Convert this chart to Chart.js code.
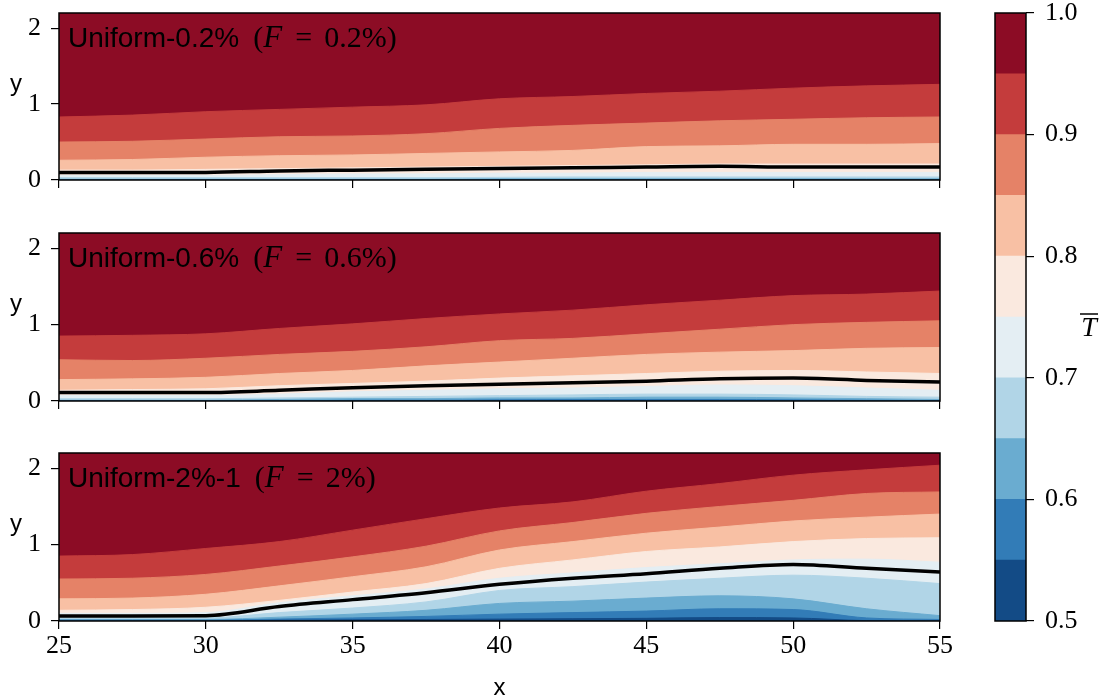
<!DOCTYPE html>
<html>
<head>
<meta charset="utf-8">
<script src="https://cdn.jsdelivr.net/npm/chart.js@4.4.1/dist/chart.umd.min.js"></script>
<style>
  html, body { margin: 0; padding: 0; background: #fff; overflow: hidden; }
  body { width: 1102px; height: 698px; position: relative; }
  canvas { position: absolute; }
</style>
</head>
<body>
<canvas id="c1"></canvas>
<canvas id="c2"></canvas>
<canvas id="c3"></canvas>
<canvas id="cbar"></canvas>
<script>
const xs = [25, 27.5, 30, 32.5, 35, 37.5, 40, 42.5, 45, 47.5, 50, 52.5, 55];

// band edges of T-bar and their colours (RdBu_r, low -> high)
const edges = [0.50, 0.55, 0.60, 0.65, 0.70, 0.75, 0.80, 0.85, 0.90, 0.95, 1.00];
const bandColors = ['#134b86', '#327cb7', '#6aacd0', '#b1d5e7', '#e4eef3',
                    '#fae9df', '#f8c0a4', '#e58267', '#c43c3c', '#8c0c25'];

const names = ['Uniform-0.2%', 'Uniform-0.6%', 'Uniform-2%-1'];
const fracs = ['0.2%', '0.6%', '2%'];

// Uniform-0.2% : height of each T contour (0.55 ... 0.95)
const p1_055 = [0, 0, 0, 0, 0, 0, 0, 0, 0, 0, 0, 0, 0];
const p1_060 = [0, 0, 0, 0, 0, 0, 0, 0, 0, 0, 0, 0, 0];
const p1_065 = [0.01, 0.01, 0.01, 0.01, 0.01, 0.01, 0.015, 0.015, 0.015, 0.015, 0.015, 0.015, 0.015];
const p1_070 = [0.03, 0.03, 0.03, 0.03, 0.03, 0.03, 0.035, 0.04, 0.04, 0.04, 0.04, 0.04, 0.04];
const p1_075 = [0.06, 0.06, 0.06, 0.07, 0.08, 0.08, 0.09, 0.09, 0.10, 0.10, 0.10, 0.10, 0.10];
const p1_080 = [0.13, 0.13, 0.14, 0.15, 0.16, 0.17, 0.18, 0.19, 0.20, 0.21, 0.21, 0.21, 0.21];
const p1_085 = [0.26, 0.27, 0.30, 0.32, 0.33, 0.35, 0.37, 0.39, 0.44, 0.45, 0.47, 0.47, 0.48];
const p1_090 = [0.50, 0.51, 0.54, 0.57, 0.58, 0.61, 0.68, 0.72, 0.75, 0.78, 0.80, 0.82, 0.83];
const p1_095 = [0.83, 0.855, 0.90, 0.93, 0.96, 0.99, 1.07, 1.10, 1.14, 1.17, 1.21, 1.24, 1.26];
const black1 = [0.10, 0.10, 0.10, 0.12, 0.13, 0.14, 0.15, 0.16, 0.17, 0.18, 0.17, 0.17, 0.17];

// Uniform-0.6%
const p2_055 = [0, 0, 0, 0, 0, 0, 0, 0, 0, 0, 0, 0, 0];
const p2_060 = [0, 0, 0, 0, 0.01, 0.01, 0.015, 0.02, 0.02, 0.02, 0.015, 0.01, 0.005];
const p2_065 = [0.01, 0.01, 0.01, 0.02, 0.03, 0.03, 0.04, 0.04, 0.05, 0.05, 0.04, 0.03, 0.02];
const p2_070 = [0.03, 0.03, 0.03, 0.04, 0.05, 0.06, 0.07, 0.08, 0.09, 0.09, 0.08, 0.06, 0.05];
const p2_075 = [0.07, 0.07, 0.07, 0.09, 0.12, 0.14, 0.16, 0.17, 0.19, 0.21, 0.20, 0.17, 0.14];
const p2_080 = [0.14, 0.15, 0.16, 0.20, 0.23, 0.26, 0.30, 0.33, 0.36, 0.39, 0.40, 0.38, 0.36];
const p2_085 = [0.28, 0.29, 0.31, 0.36, 0.40, 0.46, 0.51, 0.56, 0.61, 0.64, 0.66, 0.69, 0.70];
const p2_090 = [0.54, 0.53, 0.56, 0.61, 0.65, 0.71, 0.79, 0.82, 0.88, 0.94, 1.00, 1.03, 1.05];
const p2_095 = [0.85, 0.86, 0.88, 0.95, 1.01, 1.08, 1.14, 1.19, 1.26, 1.32, 1.38, 1.40, 1.44];
const black2 = [0.11, 0.11, 0.11, 0.14, 0.175, 0.20, 0.22, 0.24, 0.26, 0.29, 0.30, 0.27, 0.25];

// Uniform-2%-1
const p3_055 = [0, 0, 0, 0.01, 0.015, 0.02, 0.025, 0.03, 0.035, 0.045, 0.04, 0.005, 0];
const p3_060 = [0.01, 0.01, 0.01, 0.025, 0.04, 0.06, 0.09, 0.11, 0.13, 0.16, 0.15, 0.04, 0.02];
const p3_065 = [0.02, 0.02, 0.02, 0.05, 0.09, 0.14, 0.23, 0.26, 0.30, 0.33, 0.29, 0.16, 0.07];
const p3_070 = [0.04, 0.04, 0.04, 0.11, 0.17, 0.25, 0.40, 0.45, 0.51, 0.56, 0.60, 0.56, 0.49];
const p3_075 = [0.10, 0.10, 0.11, 0.24, 0.33, 0.42, 0.56, 0.63, 0.70, 0.75, 0.80, 0.81, 0.77];
const p3_080 = [0.14, 0.15, 0.18, 0.27, 0.38, 0.49, 0.69, 0.80, 0.91, 0.97, 1.04, 1.08, 1.09];
const p3_085 = [0.29, 0.30, 0.35, 0.46, 0.58, 0.71, 0.93, 1.04, 1.15, 1.23, 1.31, 1.36, 1.40];
const p3_090 = [0.55, 0.56, 0.61, 0.72, 0.84, 0.98, 1.18, 1.29, 1.41, 1.50, 1.58, 1.67, 1.69];
const p3_095 = [0.85, 0.87, 0.95, 1.04, 1.19, 1.34, 1.48, 1.56, 1.70, 1.80, 1.91, 1.98, 2.04];
const black3 = [0.066, 0.066, 0.07, 0.19, 0.28, 0.37, 0.48, 0.56, 0.62, 0.69, 0.74, 0.69, 0.64];

const panels = [
  { id: 'c1', top: 13, bottom: 180, xh: 30, showX: false,
    lines: [p1_055, p1_060, p1_065, p1_070, p1_075, p1_080, p1_085, p1_090, p1_095], black: black1 },
  { id: 'c2', top: 233, bottom: 401, xh: 30, showX: false,
    lines: [p2_055, p2_060, p2_065, p2_070, p2_075, p2_080, p2_085, p2_090, p2_095], black: black2 },
  { id: 'c3', top: 453, bottom: 621, xh: 80, showX: true,
    lines: [p3_055, p3_060, p3_065, p3_070, p3_075, p3_080, p3_085, p3_090, p3_095], black: black3 }
];

Chart.defaults.font.family = '"Liberation Serif", serif';
Chart.defaults.font.size = 26;
Chart.defaults.color = '#000';

const PAD_TOP = 20;

panels.forEach((p, k) => {
  const cv = document.getElementById(p.id);
  cv.width = 960;
  cv.height = PAD_TOP + (p.bottom - p.top) + p.xh;
  cv.style.left = '0px';
  cv.style.top = (p.top - PAD_TOP) + 'px';

  const toPts = arr => xs.map((x, j) => ({ x: x, y: arr[j] }));

  // each contour filled down to y = 0, lowest level drawn on top
  const datasets = p.lines.map((arr, i) => ({
    data: toPts(arr),
    fill: 'origin',
    backgroundColor: bandColors[i],
    borderColor: bandColors[i],
    borderWidth: 1,
    pointRadius: 0,
    cubicInterpolationMode: 'monotone',
    order: i
  }));
  datasets.push({
    data: toPts(p.black),
    fill: false,
    borderColor: '#000',
    borderWidth: 3.5,
    pointRadius: 0,
    cubicInterpolationMode: 'monotone',
    order: -1
  });

  const deco = {
    id: 'deco' + k,
    beforeDatasetsDraw(chart) {
      const a = chart.chartArea, ctx = chart.ctx;
      ctx.save();
      ctx.fillStyle = bandColors[9];
      ctx.fillRect(a.left, a.top, a.right - a.left, a.bottom - a.top);
      ctx.restore();
    },
    afterDraw(chart) {
      const a = chart.chartArea, ctx = chart.ctx;
      ctx.save();
      ctx.strokeStyle = '#000';
      ctx.lineWidth = 1.5;
      ctx.strokeRect(a.left, a.top, a.right - a.left, a.bottom - a.top);

      // panel title
      ctx.fillStyle = '#000';
      ctx.textAlign = 'left';
      ctx.textBaseline = 'alphabetic';
      const x0 = a.left + 9, yb = a.top + 34;
      ctx.font = '28px "Liberation Sans"';
      ctx.fillText(names[k], x0, yb);
      const xm = x0 + ctx.measureText(names[k]).width + 14;
      ctx.font = '30px "Liberation Serif"';
      ctx.fillText('(', xm, yb);
      ctx.font = 'italic 31px "Liberation Serif"';
      ctx.fillText('F', xm + 10, yb);
      ctx.font = '30px "Liberation Serif"';
      ctx.fillText('=', xm + 42, yb);
      ctx.fillText(fracs[k] + ')', xm + 71, yb);

      // axis labels
      ctx.font = '24px "Liberation Sans"';
      ctx.textAlign = 'center';
      ctx.fillText('y', 16, (a.top + a.bottom) / 2 - 6);
      if (p.showX) ctx.fillText('x', (a.left + a.right) / 2, a.bottom + 74);
      ctx.restore();
    }
  };

  new Chart(cv, {
    type: 'line',
    data: { datasets: datasets },
    options: {
      responsive: false,
      animation: false,
      events: [],
      layout: { padding: { top: PAD_TOP, right: 20, left: 0, bottom: 0 } },
      plugins: { legend: { display: false }, tooltip: { enabled: false } },
      scales: {
        x: {
          type: 'linear', min: 25, max: 55,
          ticks: { stepSize: 5, display: p.showX, padding: 2, maxRotation: 0 },
          grid: { drawOnChartArea: false, tickLength: 8, color: '#000', lineWidth: 1.2 },
          border: { display: false },
          afterFit: s => { s.height = p.xh; s.paddingLeft = 0; s.paddingRight = 0; }
        },
        y: {
          min: 0, max: 2.2,
          ticks: { stepSize: 1, includeBounds: false, padding: 10 },
          grid: { drawOnChartArea: false, tickLength: 8, color: '#000', lineWidth: 1.2 },
          border: { display: false },
          afterFit: s => { s.width = 59; s.paddingTop = 0; s.paddingBottom = 0; }
        }
      }
    },
    plugins: [deco]
  });
});

// colour bar: one floating bar per band
const cb = document.getElementById('cbar');
cb.width = 142;
cb.height = PAD_TOP + 608 + 77;
cb.style.left = '960px';
cb.style.top = (13 - PAD_TOP) + 'px';

const barFrame = {
  id: 'barFrame',
  afterDraw(chart) {
    const a = chart.chartArea, ctx = chart.ctx;
    ctx.save();
    ctx.strokeStyle = '#000';
    ctx.lineWidth = 1.5;
    ctx.strokeRect(a.left, a.top, a.right - a.left, a.bottom - a.top);
    ctx.fillStyle = '#000';
    ctx.font = 'italic 28px "Liberation Serif"';
    ctx.textAlign = 'center';
    ctx.fillText('T', 129, a.top + 323);
    ctx.lineWidth = 1.5;
    ctx.beginPath();
    ctx.moveTo(120, a.top + 301);
    ctx.lineTo(138, a.top + 301);
    ctx.stroke();
    ctx.restore();
  }
};

new Chart(cb, {
  type: 'bar',
  data: {
    labels: [''],
    datasets: bandColors.map((c, i) => ({
      data: [[edges[i], edges[i + 1]]],
      backgroundColor: c,
      borderWidth: 0,
      barPercentage: 1,
      categoryPercentage: 1,
      grouped: false
    }))
  },
  options: {
    responsive: false,
    animation: false,
    events: [],
    layout: { padding: { left: 35, top: PAD_TOP, bottom: 77, right: 0 } },
    plugins: { legend: { display: false }, tooltip: { enabled: false } },
    scales: {
      x: { display: false },
      y: {
        position: 'right', min: 0.5, max: 1.0,
        ticks: { stepSize: 0.1, padding: 11, callback: v => v.toFixed(1) },
        grid: { drawOnChartArea: false, tickLength: 8, color: '#000', lineWidth: 1.2 },
        border: { display: false },
        afterFit: s => { s.width = 76; s.paddingTop = 0; s.paddingBottom = 0; }
      }
    }
  },
  plugins: [barFrame]
});
</script>
</body>
</html>
